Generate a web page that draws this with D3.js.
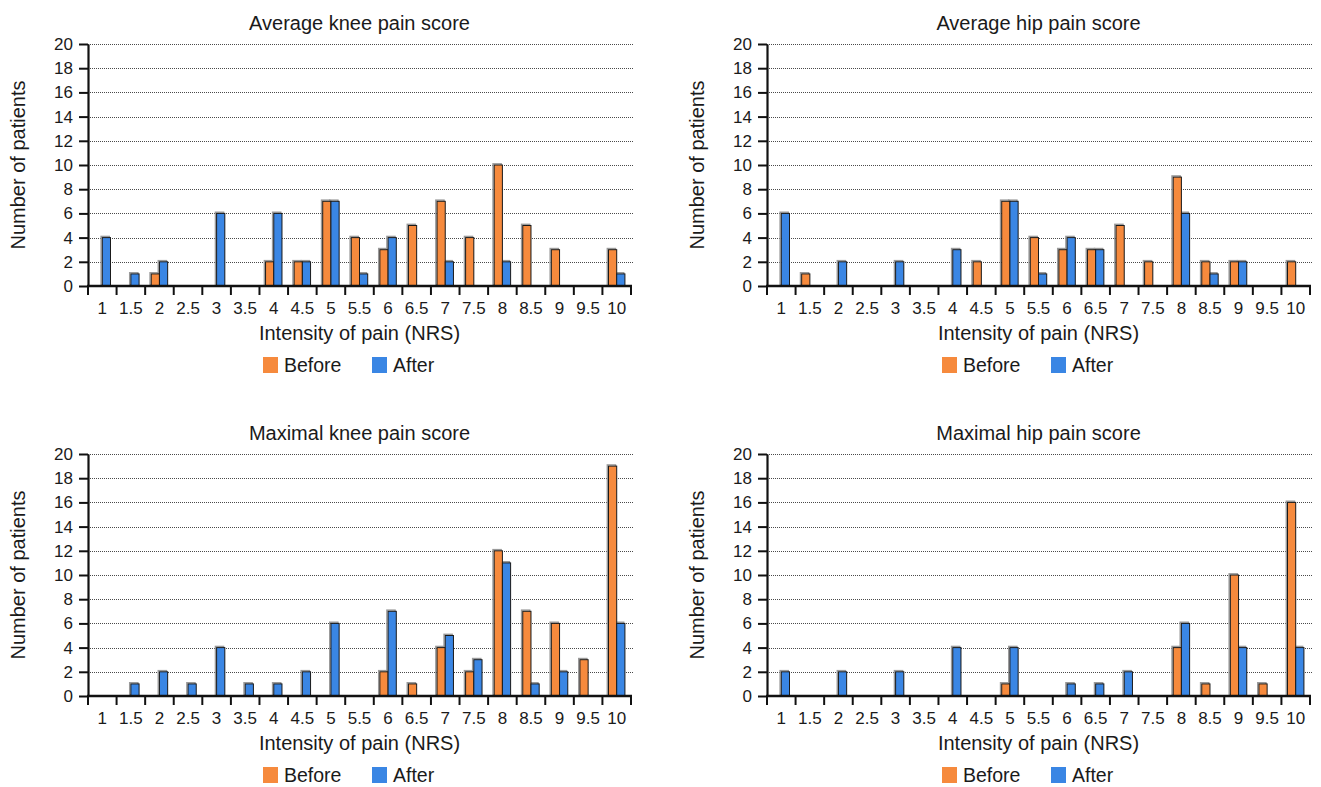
<!DOCTYPE html>
<html>
<head>
<meta charset="utf-8">
<script src="https://cdn.jsdelivr.net/npm/d3@7"></script>
<style>
  html, body { margin: 0; padding: 0; background: #fff; }
  svg { display: block; }
  text { font-family: "Liberation Sans", Arial, Helvetica, sans-serif; fill: #1a1a1a; }
</style>
</head>
<body>
<svg id="chart" width="1321" height="787"></svg>
<script>
// ---- Data ----
const categories = ["1","1.5","2","2.5","3","3.5","4","4.5","5","5.5","6","6.5","7","7.5","8","8.5","9","9.5","10"];
const seriesNames = ["Before", "After"];
const yTickValues = [0, 2, 4, 6, 8, 10, 12, 14, 16, 18, 20];

const panelTitles = ["Average knee pain score", "Average hip pain score", "Maximal knee pain score", "Maximal hip pain score"];

//                       1 1.5 2 2.5 3 3.5 4 4.5 5 5.5 6 6.5 7 7.5 8 8.5 9 9.5 10
const avgKneeBefore   = [0, 0, 1, 0, 0, 0, 2, 2, 7, 4, 3, 5, 7, 4, 10, 5, 3, 0, 3];
const avgKneeAfter    = [4, 1, 2, 0, 6, 0, 6, 2, 7, 1, 4, 0, 2, 0, 2, 0, 0, 0, 1];
const avgHipBefore    = [0, 1, 0, 0, 0, 0, 0, 2, 7, 4, 3, 3, 5, 2, 9, 2, 2, 0, 2];
const avgHipAfter     = [6, 0, 2, 0, 2, 0, 3, 0, 7, 1, 4, 3, 0, 0, 6, 1, 2, 0, 0];
const maxKneeBefore   = [0, 0, 0, 0, 0, 0, 0, 0, 0, 0, 2, 1, 4, 2, 12, 7, 6, 3, 19];
const maxKneeAfter    = [0, 1, 2, 1, 4, 1, 1, 2, 6, 0, 7, 0, 5, 3, 11, 1, 2, 0, 6];
const maxHipBefore    = [0, 0, 0, 0, 0, 0, 0, 0, 1, 0, 0, 0, 0, 0, 4, 1, 10, 1, 16];
const maxHipAfter     = [2, 0, 2, 0, 2, 0, 4, 0, 4, 0, 1, 1, 2, 0, 6, 0, 4, 0, 4];

const panelBefore = [avgKneeBefore, avgHipBefore, maxKneeBefore, maxHipBefore];
const panelAfter  = [avgKneeAfter, avgHipAfter, maxKneeAfter, maxHipAfter];

const xAxisTitle = "Intensity of pain (NRS)";
const yAxisTitle = "Number of patients";

// ---- Layout / style ----
const colors = { Before: "#F68A3D", After: "#3A86E4" };
const offsets = [[0, 0], [679, 0], [0, 410], [679, 410]];
const L = 88, R = 631, T = 44, B = 286;

const svg = d3.select("#chart");

panelTitles.forEach((title, p) => {
  const g = svg.append("g").attr("transform", `translate(${offsets[p][0]},${offsets[p][1]})`);

  const x = d3.scaleBand().domain(categories).range([L, R]).padding(0);
  const xs = d3.scaleBand().domain(seriesNames).range([0, x.bandwidth()]).paddingInner(0).paddingOuter(0.74);
  const y = d3.scaleLinear().domain([0, 20]).range([B, T]);

  // title
  g.append("text").attr("x", (L + R) / 2).attr("y", 30)
    .attr("text-anchor", "middle").style("font-size", "20px").text(title);

  // grid lines
  g.append("g").selectAll("line").data(yTickValues.filter(v => v > 0)).join("line")
    .attr("x1", L).attr("x2", R + 2)
    .attr("y1", d => Math.round(y(d)) + 0.5).attr("y2", d => Math.round(y(d)) + 0.5)
    .attr("stroke", "#4a4a4a").attr("stroke-width", 1).attr("stroke-dasharray", "1,1");

  // y axis
  const yAxis = g.append("g").attr("transform", `translate(${L},0)`)
    .call(d3.axisLeft(y).tickValues(yTickValues).tickSize(9).tickSizeOuter(0).tickPadding(6));
  yAxis.select(".domain").attr("stroke", "#111").attr("stroke-width", 2.2);
  yAxis.selectAll(".tick line").attr("stroke", "#111").attr("stroke-width", 2);
  yAxis.selectAll(".tick text").style("font-size", "17px")
    .style("font-family", "'Liberation Sans', Arial, sans-serif").attr("fill", "#1a1a1a");

  // bars
  const rows = categories.map((c, i) => ({ c, Before: panelBefore[p][i], After: panelAfter[p][i] }));
  const barData = [];
  rows.forEach(r => seriesNames.forEach(s => { if (r[s] > 0) barData.push({ c: r.c, s, v: r[s] }); }));

  // soft gray halo behind each bar
  g.append("g").selectAll("rect").data(barData).join("rect")
    .attr("x", d => x(d.c) + xs(d.s) - 1.2)
    .attr("y", d => y(d.v) - 1.2)
    .attr("width", xs.bandwidth())
    .attr("height", d => B - y(d.v))
    .attr("fill", "none").attr("stroke", "#9a9a9a").attr("stroke-width", 1.4);

  g.append("g").selectAll("rect").data(barData).join("rect")
    .attr("x", d => x(d.c) + xs(d.s))
    .attr("y", d => y(d.v))
    .attr("width", xs.bandwidth())
    .attr("height", d => B - y(d.v))
    .attr("fill", d => colors[d.s]).attr("stroke", "#1a1a1a").attr("stroke-width", 1);

  // x axis line
  g.append("line").attr("x1", L - 1).attr("x2", R + 1).attr("y1", B).attr("y2", B)
    .attr("stroke", "#111").attr("stroke-width", 2.5);
  // x ticks at band boundaries
  const boundaries = categories.map(c => x(c)).concat([x(categories[categories.length - 1]) + x.bandwidth()]);
  g.append("g").selectAll("line").data(boundaries).join("line")
    .attr("x1", d => d).attr("x2", d => d).attr("y1", B).attr("y2", B + 9)
    .attr("stroke", "#111").attr("stroke-width", 2);
  // x tick labels
  g.append("g").selectAll("text").data(categories).join("text")
    .attr("x", d => x(d) + x.bandwidth() / 2).attr("y", B + 28)
    .attr("text-anchor", "middle").style("font-size", "17px").text(d => d);

  // axis titles
  g.append("text").attr("x", (L + R) / 2).attr("y", 340)
    .attr("text-anchor", "middle").style("font-size", "20px").text(xAxisTitle);
  g.append("text").attr("transform", `translate(25,${(T + B) / 2}) rotate(-90)`)
    .attr("text-anchor", "middle").style("font-size", "20px").text(yAxisTitle);

  // legend
  const legendX = [263, 372];
  const lg = g.append("g").selectAll("g").data(seriesNames).join("g")
    .attr("transform", (d, i) => `translate(${legendX[i]},357)`);
  lg.append("rect").attr("width", 15).attr("height", 16).attr("fill", d => colors[d]);
  lg.append("text").attr("x", 21).attr("y", 15).style("font-size", "19.5px").text(d => d);
});
</script>
</body>
</html>
